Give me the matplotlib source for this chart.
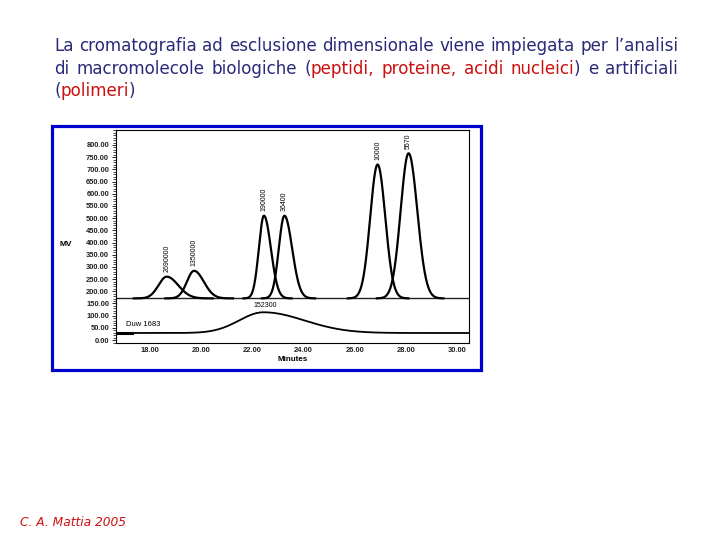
import numpy as np
import matplotlib
matplotlib.use("Agg")
import matplotlib.pyplot as plt
from matplotlib.patches import Rectangle
from matplotlib.ticker import MultipleLocator

# peaks of the upper trace (standards)
peak_times = [18.65, 19.72, 22.45, 23.25, 26.89, 28.10]
peak_heights = [89, 113, 339, 339, 549, 595]          # above baseline
peak_sig_left = [0.32, 0.28, 0.20, 0.22, 0.29, 0.31]
peak_sig_right = [0.45, 0.38, 0.27, 0.30, 0.30, 0.34]
peak_labels = ["2690000", "1350000", "190000", "36400", "10000", "5570"]
upper_base = 171

# lower trace (sample Duw 1683)
lower_base = 29
broad_time = 22.43
broad_height = 85
broad_sig_left = 0.95
broad_sig_right = 1.6
broad_label = "152300"
sample_label = "Duw 1683"

y_ticks = list(range(0, 801, 50))
x_ticks = [18, 20, 22, 24, 26, 28, 30]

navy = "#2a2a78"
red = "#cc1010"

W, H = 720, 540
fig = plt.figure(figsize=(7.2, 5.4), dpi=100)

# blue frame around the chromatogram
fig.patches.append(Rectangle((51.5 / W, 1 - 370 / H), (481 - 51.5) / W, (370 - 126) / H,
                             transform=fig.transFigure, fill=False,
                             edgecolor="#0000cc", linewidth=2.3))

ax = fig.add_axes([116 / W, 1 - 343 / H, 353 / W, 213 / H])
ax.set_xlim(16.67, 30.46)
ax.set_ylim(-12, 861.5)


def half_gauss(t, c, h, sl, sr):
    s = np.where(t < c, sl, sr)
    return h * np.exp(-(t - c) ** 2 / (2 * s ** 2))


ax.axhline(upper_base, color="#222222", lw=1.0)
for c, h, sl, sr, lab in zip(peak_times, peak_heights, peak_sig_left, peak_sig_right, peak_labels):
    t = np.linspace(c - 4 * sl, c + 4 * sr, 300)
    ax.plot(t, upper_base + half_gauss(t, c, h, sl, sr), color="black", lw=1.6)
    ax.text(c, upper_base + h + 18, lab, rotation=90, ha="center", va="bottom",
            fontsize=5, family="Liberation Sans", clip_on=False)

t = np.linspace(16.67, 30.46, 600)
ax.plot(t, lower_base + half_gauss(t, broad_time, broad_height, broad_sig_left, broad_sig_right),
        color="black", lw=1.3)
ax.plot([16.67, 17.3], [lower_base, lower_base], color="black", lw=2.2)
ax.text(broad_time + 0.05, lower_base + broad_height + 12, broad_label, ha="center", va="bottom",
        fontsize=5, family="Liberation Sans")
ax.text(17.05, lower_base + 20, sample_label, ha="left", va="bottom",
        fontsize=5.5, family="Liberation Sans")

ax.set_yticks(y_ticks)
ax.set_yticklabels(["%.2f" % v for v in y_ticks])
ax.yaxis.set_minor_locator(MultipleLocator(10))
ax.set_xticks(x_ticks)
ax.set_xticklabels(["%.2f" % v for v in x_ticks])
ax.tick_params(axis="y", which="major", length=3, width=0.6, pad=2,
               labelsize=5.4, labelcolor="#222222")
ax.tick_params(axis="y", which="minor", length=2, width=0.5)
ax.tick_params(axis="x", length=0, pad=3, labelsize=5.4, labelcolor="#222222")
for lab in ax.get_xticklabels() + ax.get_yticklabels():
    lab.set_fontweight("bold")
    lab.set_family("Liberation Sans")
for sp in ax.spines.values():
    sp.set_linewidth(0.8)
ax.set_xlabel("Minutes", fontsize=5.8, fontweight="bold", family="Liberation Sans", labelpad=1)
fig.text(66 / W, 1 - 244 / H, "MV", fontsize=6, fontweight="bold", family="Liberation Sans",
         ha="center", va="center")

# title, justified, with red words
line1 = [("La cromatografia ad esclusione dimensionale viene impiegata per l\u2019analisi", navy)]
line2 = [("di macromolecole biologiche (", navy), ("peptidi, proteine, acidi nucleici", red),
         (") e artificiali", navy)]
line3 = [("(", navy), ("polimeri", red), (")", navy)]

fig.canvas.draw()
r = fig.canvas.get_renderer()
title_font = "DejaVu Sans"


def words_of(segments):
    words, cur = [], []
    for txt, col in segments:
        parts = txt.split(" ")
        for i, p in enumerate(parts):
            if i > 0:
                if cur:
                    words.append(cur)
                cur = []
            if p:
                cur.append((p, col))
    if cur:
        words.append(cur)
    return words


def width_px(s, size):
    tx = fig.text(0, 0, s, fontsize=size, family=title_font)
    w = tx.get_window_extent(r).width
    tx.remove()
    return w


def place(segments, x0, y, size, width=None):
    words = words_of(segments)
    wlen = [sum(width_px(p, size) for p, _ in wd) for wd in words]
    if width is None:
        gap = width_px("a b", size) - width_px("ab", size)
    else:
        gap = (width - sum(wlen)) / (len(words) - 1)
    x = x0
    for wd, wl in zip(words, wlen):
        xx = x
        for p, col in wd:
            fig.text(xx / W, 1 - y / H, p, fontsize=size, family=title_font, color=col,
                     va="baseline", ha="left")
            xx += width_px(p, size)
        x += wl + gap


x_left, x_right = 54, 678
natural = width_px(line1[0][0], 10)
size = 10 * (x_right - x_left) / natural
place(line1, x_left, 51, size, x_right - x_left)
place(line2, x_left, 74, size, x_right - x_left)
place(line3, x_left, 96, size)

fig.text(20 / W, 1 - 522 / H, "C. A. Mattia 2005", fontsize=8.8, style="italic",
         color=red, va="center", ha="left")

fig.savefig("out.png", dpi=100)
